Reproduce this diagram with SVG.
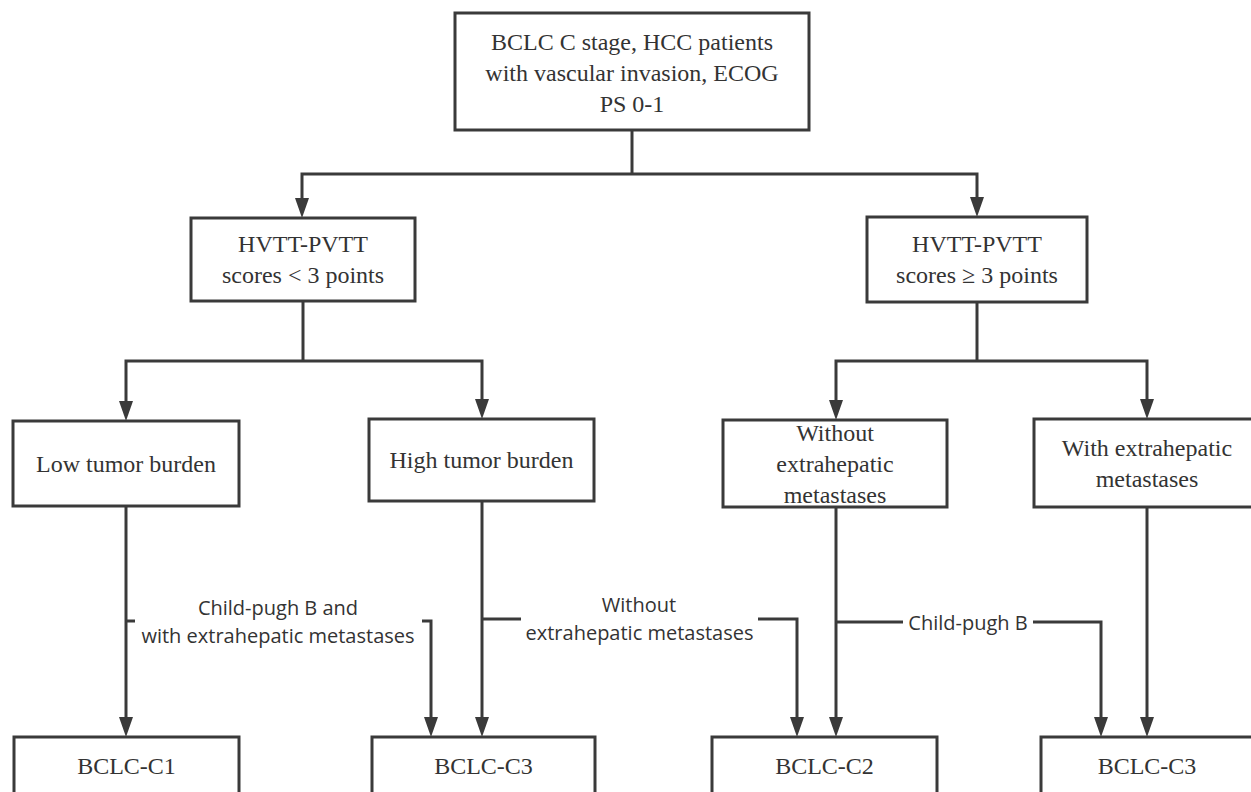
<svg xmlns="http://www.w3.org/2000/svg" width="1251" height="792" viewBox="0 0 1251 792">
  <style>
    .box { fill: #ffffff; stroke: #3a3a3a; stroke-width: 3; }
    .nt { font-family: "Liberation Serif", "Times New Roman", serif; font-size: 24px; fill: #333333; text-anchor: middle; }
    .lt { font-family: "Open Sans", "Noto Sans", sans-serif; font-size: 20px; fill: #333333; text-anchor: middle; }
    .ln { fill: none; stroke: #3a3a3a; stroke-width: 3; }
    .ar { marker-end: url(#arrow); }
  </style>
  <defs>
    <marker id="arrow" markerUnits="userSpaceOnUse" markerWidth="20" markerHeight="14" refX="14" refY="7" orient="auto">
      <path d="M0,0 L20,7 L0,14 Z" fill="#3a3a3a"/>
    </marker>
  </defs>
  <rect width="1251" height="792" fill="#ffffff"/>

  <g id="connectors">
    <path class="ln" d="M632,130 V174"/>
    <path class="ln ar" d="M632,174 H302 V212"/>
    <path class="ln ar" d="M632,174 H977 V211"/>
    <path class="ln" d="M303,301 V361"/>
    <path class="ln ar" d="M303,361 H126 V415"/>
    <path class="ln ar" d="M303,361 H482 V413"/>
    <path class="ln" d="M977,302 V361"/>
    <path class="ln ar" d="M977,361 H836 V414"/>
    <path class="ln ar" d="M977,361 H1147 V413"/>
    <path class="ln ar" d="M126,506 V731"/>
    <path class="ln" d="M126,621 H135"/>
    <path class="ln ar" d="M422,621 H431 V731"/>
    <path class="ln ar" d="M482,501 V731"/>
    <path class="ln" d="M482,619 H521"/>
    <path class="ln ar" d="M758,619 H797 V731"/>
    <path class="ln ar" d="M836,507 V731"/>
    <path class="ln" d="M836,622 H903"/>
    <path class="ln ar" d="M1033,622 H1101 V731"/>
    <path class="ln ar" d="M1147,507 V731"/>
    <text class="lt" x="278" y="615">Child-pugh B and</text>
    <text class="lt" x="278" y="643">with extrahepatic metastases</text>
    <text class="lt" x="639" y="612">Without</text>
    <text class="lt" x="639.5" y="640">extrahepatic metastases</text>
    <text class="lt" x="968" y="630">Child-pugh B</text>
  </g>

  <g id="root">
    <rect class="box" x="455" y="13" width="354" height="117"/>
    <text class="nt" x="632" y="50">BCLC C stage, HCC patients</text>
    <text class="nt" x="632" y="81">with vascular invasion, ECOG</text>
    <text class="nt" x="632" y="112">PS 0-1</text>
  </g>

  <g id="score-low">
    <rect class="box" x="191" y="218" width="224" height="83"/>
    <text class="nt" x="303" y="252">HVTT-PVTT</text>
    <text class="nt" x="303" y="283">scores &lt; 3 points</text>
  </g>

  <g id="score-high">
    <rect class="box" x="867" y="217" width="220" height="85"/>
    <text class="nt" x="977" y="252">HVTT-PVTT</text>
    <text class="nt" x="977" y="283">scores ≥ 3 points</text>
  </g>

  <g id="low-burden">
    <rect class="box" x="13" y="421" width="226" height="85"/>
    <text class="nt" x="126" y="472">Low tumor burden</text>
  </g>

  <g id="high-burden">
    <rect class="box" x="369" y="419" width="225" height="82"/>
    <text class="nt" x="481.5" y="468">High tumor burden</text>
  </g>

  <g id="without-ehm">
    <rect class="box" x="723" y="420" width="224" height="87"/>
    <text class="nt" x="835" y="441">Without</text>
    <text class="nt" x="835" y="472">extrahepatic</text>
    <text class="nt" x="835" y="503">metastases</text>
  </g>

  <g id="with-ehm">
    <rect class="box" x="1034" y="419" width="226" height="88"/>
    <text class="nt" x="1147" y="456">With extrahepatic</text>
    <text class="nt" x="1147" y="487">metastases</text>
  </g>

  <g id="c1">
    <rect class="box" x="14" y="737" width="225" height="80"/>
    <text class="nt" x="126.5" y="774">BCLC-C1</text>
  </g>

  <g id="c3-left">
    <rect class="box" x="372" y="737" width="223" height="80"/>
    <text class="nt" x="483.5" y="774">BCLC-C3</text>
  </g>

  <g id="c2">
    <rect class="box" x="712" y="737" width="225" height="80"/>
    <text class="nt" x="824.5" y="774">BCLC-C2</text>
  </g>

  <g id="c3-right">
    <rect class="box" x="1041" y="737" width="220" height="80"/>
    <text class="nt" x="1147" y="774">BCLC-C3</text>
  </g>
</svg>
